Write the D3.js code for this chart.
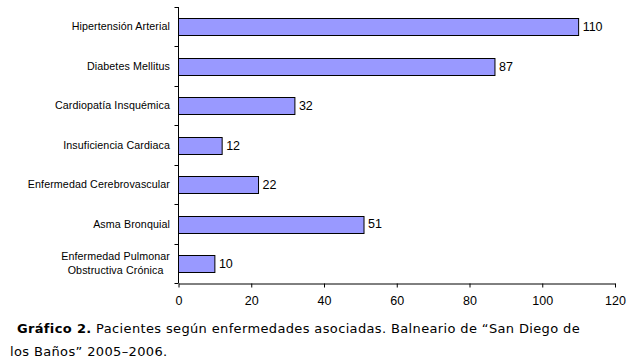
<!DOCTYPE html>
<html>
<head>
  <meta charset="UTF-8">
  <title>Pacientes según enfermedades asociadas</title>
  <style>
    body { margin: 0; background: #fff; }
    svg { display: block; }
    .cat { font: 10.7px "Liberation Sans", Arial, sans-serif; fill: #000; letter-spacing: 0.1px; }
    .val { font: 12.5px "Liberation Sans", Arial, sans-serif; fill: #000; }
    .tick text { font: 12.5px "Liberation Sans", Arial, sans-serif; fill: #000; }
    .caption { font: 13px "DejaVu Sans", Verdana, sans-serif; fill: #000; letter-spacing: 0.36px; }
  </style>
</head>
<body>
<svg></svg>
<script src="https://d3js.org/d3.v7.min.js"></script>
<script>

let width = 636,
    height = 363;

// data
let categories = [
  ["Hipertensión Arterial"],
  ["Diabetes Mellitus"],
  ["Cardiopatía Insquémica"],
  ["Insuficiencia Cardiaca"],
  ["Enfermedad Cerebrovascular"],
  ["Asma Bronquial"],
  ["Enfermedad Pulmonar", "Obstructiva Crónica"]
];
let values = [110, 87, 32, 12, 22, 51, 10];
let xTicks = [0, 20, 40, 60, 80, 100, 120];
let captionLines = [
  [[" Gráfico 2.", true], [" Pacientes según enfermedades asociadas. Balneario de “San Diego de", false]],
  [["los Baños” 2005–2006.", false]]
];

let svg = d3.select("svg")
    .attr("width", width)
    .attr("height", height);

let plotLeft = 178.5, plotRight = 615, plotTop = 7, plotBottom = 283;

let x = d3.scaleLinear()
    .domain([0, 120])
    .range([plotLeft, plotRight]);

let y = d3.scaleBand()
    .domain(d3.range(values.length))
    .range([plotTop, plotBottom])
    .paddingInner(0.58)
    .paddingOuter(0.29);

let step = y.step();

// bars
svg.append("g")
  .selectAll("rect")
  .data(values)
  .enter()
  .append("rect")
  .attr("x", x(0))
  .attr("y", (d, i) => Math.round(y(i)) + 0.5)
  .attr("width", d => x(d) - x(0))
  .attr("height", Math.round(y.bandwidth()))
  .attr("fill", "#9999ff")
  .attr("stroke", "#000")
  .attr("stroke-width", 1);

// value labels
svg.append("g")
  .selectAll("text")
  .data(values)
  .enter()
  .append("text")
  .attr("class", "val")
  .attr("x", d => x(d) + 4)
  .attr("y", (d, i) => y(i) + y.bandwidth() / 2)
  .attr("dy", "0.36em")
  .text(d => d);

// x axis
let xAxis = svg.append("g")
  .attr("transform", "translate(0," + (plotBottom + 0.5) + ")")
  .call(d3.axisBottom(x).tickValues(xTicks).tickSize(4).tickSizeOuter(0).tickPadding(9));
xAxis.select(".domain").attr("stroke", "#000");
xAxis.selectAll(".tick line").attr("stroke", "#000");

// y axis line with ticks at category boundaries
let yg = svg.append("g");
yg.append("line")
  .attr("x1", x(0)).attr("x2", x(0))
  .attr("y1", plotTop).attr("y2", plotBottom)
  .attr("stroke", "#000");
yg.selectAll("line.yt")
  .data(d3.range(values.length + 1))
  .enter()
  .append("line")
  .attr("class", "yt")
  .attr("x1", x(0) - 4).attr("x2", x(0))
  .attr("y1", i => Math.round(plotTop + i * step) + 0.5)
  .attr("y2", i => Math.round(plotTop + i * step) + 0.5)
  .attr("stroke", "#000");

// category labels (multi-line labels are centered as a block, block right-aligned)
let labelRight = 170;
categories.forEach((lines, i) => {
  let t = svg.append("text")
    .attr("class", "cat")
    .attr("text-anchor", "middle");
  let lh = 14;
  let cy = y(i) + y.bandwidth() / 2;
  let y0 = cy - (lines.length - 1) * lh / 2;
  lines.forEach((s, j) => {
    t.append("tspan")
      .attr("y", y0 + j * lh)
      .attr("dy", "0.35em")
      .text(s);
  });
  let w = d3.max(t.selectAll("tspan").nodes(), n => n.getComputedTextLength());
  t.selectAll("tspan").attr("x", labelRight - w / 2);
});

// caption
let cap = svg.append("g");
captionLines.forEach((parts, i) => {
  let t = cap.append("text")
    .attr("class", "caption")
    .attr("x", i == 0 ? 12 : 10)
    .attr("y", 333 + i * 23)
    .attr("xml:space", "preserve");
  parts.forEach(p => {
    t.append("tspan")
      .attr("font-weight", p[1] ? "bold" : "normal")
      .text(p[0]);
  });
});

</script>
</body>
</html>
